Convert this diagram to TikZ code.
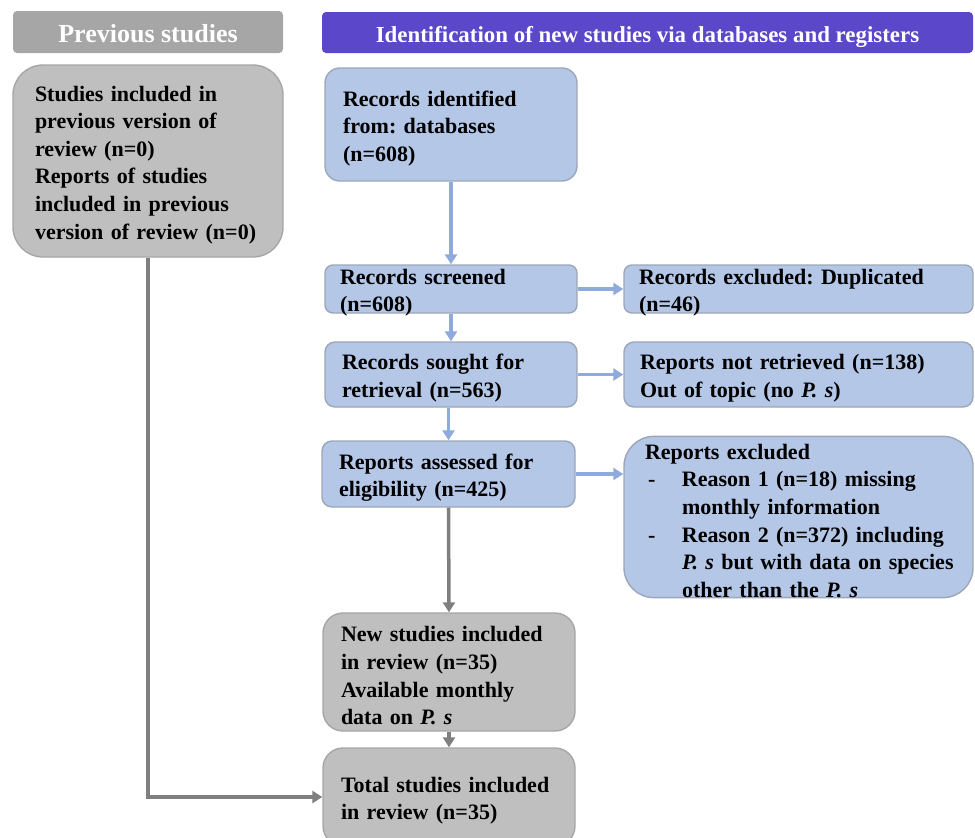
\documentclass[tikz,border=0pt]{standalone}
\usepackage{fontspec}
\setmainfont{Liberation Serif}
\usetikzlibrary{arrows.meta}
\definecolor{bfill}{HTML}{B4C7E7}
\definecolor{bdraw}{HTML}{9CA6B8}
\definecolor{gfill}{HTML}{BFBFBF}
\definecolor{gdraw}{HTML}{A6A6A6}
\definecolor{barrow}{HTML}{8FAADC}
\definecolor{garrow}{HTML}{7F7F7F}
\definecolor{hdrgray}{HTML}{A6A6A6}
\definecolor{hdrpurple}{HTML}{5B47C9}
\tikzset{
  boxbase/.style={rectangle, line width=1.4pt, align=left, inner ysep=0pt,
    text height=23pt,
    font=\fontsize{22}{27.6}\selectfont\bfseries\frenchspacing},
  bluebox/.style={boxbase, fill=bfill, draw=bdraw},
  graybox/.style={boxbase, fill=gfill, draw=gdraw},
  hdr/.style={rectangle, rounded corners=4pt, text=white, inner sep=0pt},
  barr/.style={draw=barrow, line width=3.5pt, -{Triangle[length=10pt,width=12pt]}},
  garr/.style={draw=garrow, line width=3.5pt, -{Triangle[length=10pt,width=12pt]}},
}
\newcommand{\nb}[1]{\mbox{#1}}
\begin{document}
\begin{tikzpicture}[x=1pt,y=-1pt]
\useasboundingbox (0,0) rectangle (975,838);
% headers
\node[hdr, fill=hdrgray, minimum width=270pt, minimum height=42pt,
  text height=21pt, text depth=0.5pt,
  font=\fontsize{26}{28}\selectfont\bfseries] (h1) at (148,32) {Previous studies};
\node[hdr, fill=hdrpurple, minimum width=651pt, minimum height=41pt,
  text height=20pt, text depth=1pt,
  font=\fontsize{22.9}{25}\selectfont\bfseries] (h2) at (647.5,32.5) {Identification of new studies via databases and registers};
% boxes
\node[graybox, rounded corners=30pt, minimum width=270pt, minimum height=192pt,
  text width=226pt, inner xsep=22pt] (prev) at (148,161)
  {\nb{Studies included in}\\\nb{previous version of}\\\nb{review (n=0)}\\\nb{Reports of studies}\\\nb{included in previous}\\\nb{version of review (n=0)}};
\node[bluebox, rounded corners=15pt, minimum width=252pt, minimum height=113pt,
  text width=216pt, inner xsep=18pt] (ident) at (451,124.5)
  {\nb{Records identified}\\\nb{from: databases}\\\nb{(n=608)}};
\node[bluebox, rounded corners=8pt, minimum width=252pt, minimum height=48pt,
  text width=222pt, inner xsep=15pt, text height=19pt, text depth=29pt] (screen) at (451,289)
  {\nb{Records screened}\\\nb{(n=608)}};
\node[bluebox, rounded corners=8pt, minimum width=349pt, minimum height=48pt,
  text width=319pt, inner xsep=15pt, text height=19pt, text depth=29pt] (excl) at (798.5,289)
  {\nb{Records excluded: Duplicated}\\\nb{(n=46)}};
\node[bluebox, rounded corners=10pt, minimum width=252pt, minimum height=65pt,
  text width=218pt, inner xsep=17pt] (sought) at (451,374.5)
  {\nb{Records sought for}\\\nb{retrieval (n=563)}};
\node[bluebox, rounded corners=10pt, minimum width=349pt, minimum height=65pt,
  text width=317pt, inner xsep=16pt] (notret) at (798.5,374.5)
  {\nb{Reports not retrieved (n=138)}\\\nb{Out of topic (no \textit{P. s})}};
\node[bluebox, rounded corners=10pt, minimum width=253pt, minimum height=66pt,
  text width=219pt, inner xsep=17pt] (assess) at (448.5,474)
  {\nb{Reports assessed for}\\\nb{eligibility (n=425)}};
\node[bluebox, rounded corners=30pt, minimum width=349pt, minimum height=160pt,
  text width=307pt, inner xsep=21pt] (repexcl) at (798.5,517)
  {\nb{Reports excluded}\\
   \nb{\hspace*{3pt}\makebox[34pt][l]{-}Reason 1 (n=18) missing}\\
   \nb{\hspace*{37pt}monthly information}\\
   \nb{\hspace*{3pt}\makebox[34pt][l]{-}Reason 2 (n=372) including}\\
   \nb{\hspace*{37pt}\textit{P. s} but with data on species}\\
   \nb{\hspace*{37pt}other than the \textit{P. s}}};
\node[graybox, rounded corners=20pt, minimum width=252pt, minimum height=118pt,
  text width=216pt, inner xsep=18pt] (new) at (449,672)
  {\nb{New studies included}\\\nb{in review (n=35)}\\\nb{Available monthly}\\\nb{data on \textit{P. s}}};
\node[graybox, rounded corners=20pt, minimum width=252pt, minimum height=98pt,
  text width=216pt, inner xsep=18pt] (total) at (449,797)
  {\nb{Total studies included}\\\nb{in review (n=35)}};
% connectors
\draw[barr] (ident.south) -- (screen.north);
\draw[barr] (screen.south) -- (sought.north);
\draw[barr] (sought.south -| assess.north) -- (assess.north);
\draw[barr] (screen.east) -- (excl.west);
\draw[barr] (sought.east) -- (notret.west);
\draw[barr] (assess.east) -- (assess.east -| repexcl.west);
\draw[garr] (assess.south) -- (new.north);
\draw[garr] (new.south) -- (total.north);
\draw[garr] (prev.south) |- (total.west);
\end{tikzpicture}
\end{document}
